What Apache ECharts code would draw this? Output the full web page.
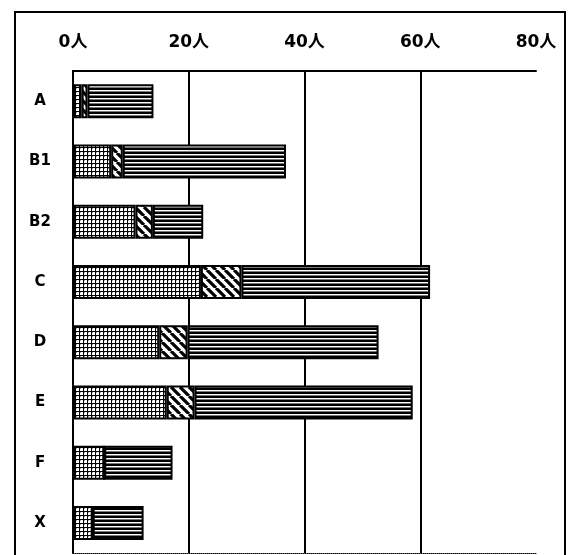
<!DOCTYPE html>
<html>
<head>
<meta charset="utf-8">
<script src="https://cdn.jsdelivr.net/npm/echarts@6/dist/echarts.min.js"></script>
<style>
html,body{margin:0;padding:0;background:#fff;}
#chart{width:574px;height:555px;}
</style>
</head>
<body>
<div id="chart"></div>
<script>
// ---- data ----
var categories = ['A', 'B1', 'B2', 'C', 'D', 'E', 'F', 'X'];
var dottedValues = [1.5, 6.6, 10.8, 22.1, 14.9, 16.2, 5.4, 3.4];
var hatchedValues = [1.0, 2.0, 3.0, 7.0, 4.9, 4.8, 0, 0];
var linedValues = [11.4, 28.2, 8.7, 32.6, 33.0, 37.7, 11.8, 8.8];
var xTicks = [0, 20, 40, 60, 80];
var unit = '人';

// ---- patterns ----
function makeTile(w, h, draw) {
  var c = document.createElement('canvas');
  c.width = w; c.height = h;
  var ctx = c.getContext('2d');
  draw(ctx, w, h);
  return c;
}
var dotTile = makeTile(4, 4, function (ctx) {
  ctx.fillStyle = '#fff'; ctx.fillRect(0, 0, 4, 4);
  ctx.fillStyle = '#000';
  ctx.fillRect(3, 0, 1, 4);
  ctx.fillRect(0, 3, 4, 1);
  ctx.fillStyle = '#999';
  ctx.fillRect(0, 0, 1, 1);
});
var hatchTile = makeTile(9, 9, function (ctx) {
  ctx.fillStyle = '#fff'; ctx.fillRect(0, 0, 9, 9);
  ctx.strokeStyle = '#000'; ctx.lineWidth = 3.2;
  ctx.beginPath();
  [-9, 0, 9].forEach(function (k) { ctx.moveTo(k, 0); ctx.lineTo(k + 9, 9); });
  ctx.stroke();
});
var lineTile = makeTile(4, 4, function (ctx) {
  ctx.fillStyle = '#000'; ctx.fillRect(0, 0, 4, 4);
  ctx.fillStyle = '#fff'; ctx.fillRect(0, 2, 4, 1);
  ctx.fillStyle = '#777'; ctx.fillRect(0, 3, 4, 1);
});

var chart = echarts.init(document.getElementById('chart'), null, {renderer: 'canvas'});
var fontFam = 'DejaVu Sans, Noto Sans CJK JP, sans-serif';

function barSeries(name, data, tile) {
  return {
    name: name, type: 'bar', stack: 'total', data: data,
    barWidth: 34,
    itemStyle: {color: {image: tile, repeat: 'repeat'}, borderColor: '#000', borderWidth: 2},
    emphasis: {disabled: true},
    animation: false
  };
}

chart.setOption({
  backgroundColor: '#fff',
  animation: false,
  grid: {left: 73, right: 38, top: 71, height: 482},
  graphic: [{
    type: 'rect', shape: {x: 15, y: 12, width: 550, height: 600},
    style: {fill: 'none', stroke: '#000', lineWidth: 2}, silent: true, z: 100
  }],
  xAxis: [{
    type: 'value', position: 'top', min: xTicks[0], max: xTicks[xTicks.length - 1], interval: xTicks[1] - xTicks[0],
    axisLine: {show: true, lineStyle: {color: '#000', width: 2}},
    axisTick: {show: false},
    axisLabel: {margin: 20, color: '#000', fontSize: 17, fontWeight: 'bold', fontFamily: fontFam,
      formatter: function (v) { return v + unit; }},
    splitLine: {show: true, showMinLine: false, showMaxLine: false, lineStyle: {color: '#000', width: 2}}
  }, {
    type: 'value', position: 'bottom', min: xTicks[0], max: xTicks[xTicks.length - 1], interval: xTicks[1] - xTicks[0],
    axisLine: {show: true, lineStyle: {color: '#000', width: 1, type: 'dotted'}},
    axisTick: {show: false}, axisLabel: {show: false}, splitLine: {show: false}
  }],
  yAxis: [{
    type: 'category', data: categories, inverse: true,
    axisLine: {show: true, lineStyle: {color: '#000', width: 2}},
    axisTick: {show: false},
    axisLabel: {margin: 33, align: 'center', color: '#000', fontSize: 15, fontWeight: 'bold', fontFamily: fontFam}
  }, {
    type: 'category', data: categories, inverse: true, position: 'right',
    axisLine: {show: true, lineStyle: {color: '#000', width: 1.5, type: 'dotted'}},
    axisTick: {show: false}, axisLabel: {show: false}, splitLine: {show: false}
  }],
  series: [
    barSeries('dotted', dottedValues, dotTile),
    barSeries('hatched', hatchedValues, hatchTile),
    barSeries('lined', linedValues, lineTile)
  ]
});
</script>
</body>
</html>
